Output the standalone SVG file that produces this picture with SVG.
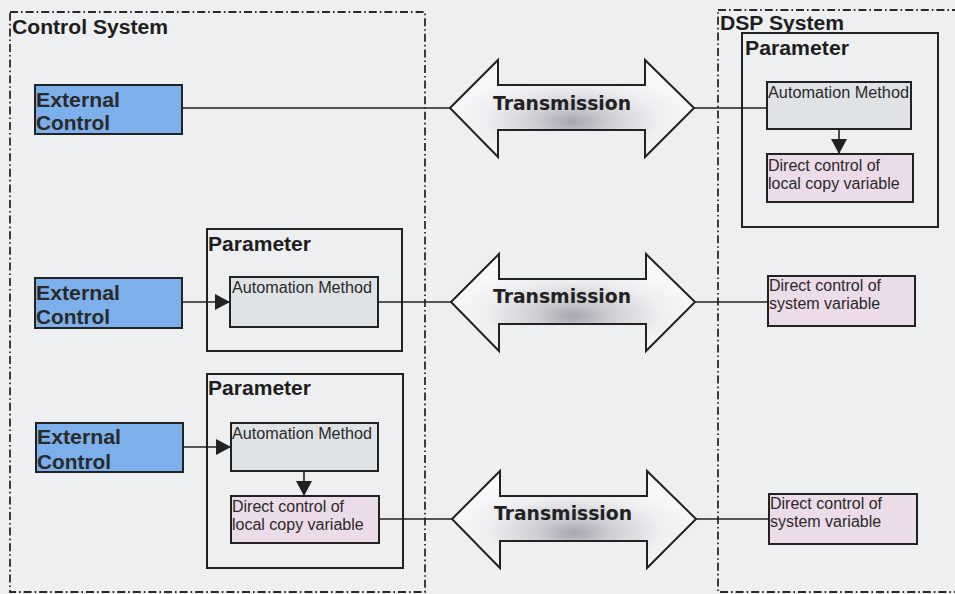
<svg xmlns="http://www.w3.org/2000/svg" width="955" height="594" viewBox="0 0 955 594">
  <style>
    .sys { fill: none; stroke: #2a2a2a; stroke-width: 1.8; stroke-dasharray: 8 3 1.6 3; }
    .title { font-family: "Liberation Sans", Arial, sans-serif; font-weight: bold; font-size: 20px; fill: #1e1e1e; }
    .param { fill: none; stroke: #222; stroke-width: 2; }
    .ext { fill: #7db0ea; stroke: #222; stroke-width: 2; }
    .ext-t { font-family: "Liberation Sans", Arial, sans-serif; font-weight: bold; font-size: 20px; fill: #2a2a2a; }
    .auto { fill: #dfe3e6; stroke: #222; stroke-width: 2; }
    .direct { fill: #ecdbe8; stroke: #222; stroke-width: 2; }
    .small { font-family: "Liberation Sans", Arial, sans-serif; font-size: 16px; fill: #2a2a2a; }
    .tx { fill: url(#txFill); stroke: #222; stroke-width: 2; stroke-linejoin: miter; }
    .tx-t { font-family: "DejaVu Sans", Verdana, sans-serif; font-weight: bold; font-size: 19px; fill: #222; text-anchor: middle; }
    .wire { fill: none; stroke: #222; stroke-width: 1.6; }
  </style>
  <defs>
    <radialGradient id="txFill" cx="0.5" cy="0.62" r="0.5" fx="0.5" fy="0.64">
      <stop offset="0" stop-color="#a6a6b0"/>
      <stop offset="0.3" stop-color="#cdcdd3"/>
      <stop offset="0.7" stop-color="#eeeef1"/>
      <stop offset="1" stop-color="#f8f8fa"/>
    </radialGradient>
    <!-- double-headed transmission arrow, left tip at origin -->
    <path id="txArrow" d="M0,0 L48,-48 L48,-23 L195,-23 L195,-48 L244,0 L195,49 L195,22 L48,22 L48,49 Z"/>
    <marker id="tri" viewBox="0 0 15 16" refX="15" refY="8" markerWidth="15" markerHeight="16" markerUnits="userSpaceOnUse" orient="auto">
      <path d="M0,0 L15,8 L0,16 Z" fill="#222"/>
    </marker>
  </defs>

  <rect width="955" height="594" fill="#edeff1"/>

  <!-- system boundaries -->
  <g id="control-system">
    <rect class="sys" x="10" y="12" width="415" height="580"/>
    <text class="title" x="12" y="34" textLength="156" lengthAdjust="spacingAndGlyphs">Control System</text>
  </g>
  <g id="dsp-system">
    <rect class="sys" x="718" y="10" width="260" height="582"/>
    <text class="title" x="720" y="30" textLength="124" lengthAdjust="spacingAndGlyphs">DSP System</text>
  </g>

  <!-- row 1 -->
  <g id="ext1">
    <rect class="ext" x="35" y="85" width="147" height="49"/>
    <text class="ext-t" x="36" y="107" textLength="84" lengthAdjust="spacingAndGlyphs">External</text>
    <text class="ext-t" x="36" y="130" textLength="74" lengthAdjust="spacingAndGlyphs">Control</text>
  </g>
  <g id="dsp-param">
    <rect class="param" x="742" y="33" width="196" height="194"/>
    <text class="title" x="745" y="55" textLength="104" lengthAdjust="spacingAndGlyphs">Parameter</text>
  </g>
  <g id="dsp-auto">
    <rect class="auto" x="767" y="82" width="144" height="47"/>
    <text class="small" x="768" y="98" textLength="141" lengthAdjust="spacingAndGlyphs">Automation Method</text>
  </g>
  <g id="dsp-local">
    <rect class="direct" x="767" y="154" width="146" height="48"/>
    <text class="small" x="768" y="171">Direct control of</text>
    <text class="small" x="768" y="189">local copy variable</text>
  </g>

  <!-- row 2 -->
  <g id="ext2">
    <rect class="ext" x="35" y="278" width="147" height="50"/>
    <text class="ext-t" x="36" y="300" textLength="84" lengthAdjust="spacingAndGlyphs">External</text>
    <text class="ext-t" x="36" y="324" textLength="74" lengthAdjust="spacingAndGlyphs">Control</text>
  </g>
  <g id="param2">
    <rect class="param" x="207" y="229" width="195" height="122"/>
    <text class="title" x="208" y="251" textLength="103" lengthAdjust="spacingAndGlyphs">Parameter</text>
  </g>
  <g id="auto2">
    <rect class="auto" x="230" y="277" width="148" height="50"/>
    <text class="small" x="232" y="293" textLength="140" lengthAdjust="spacingAndGlyphs">Automation Method</text>
  </g>
  <g id="sys2">
    <rect class="direct" x="768" y="276" width="147" height="50"/>
    <text class="small" x="769" y="291">Direct control of</text>
    <text class="small" x="769" y="309">system variable</text>
  </g>

  <!-- row 3 -->
  <g id="ext3">
    <rect class="ext" x="36" y="423" width="147" height="49"/>
    <text class="ext-t" x="37" y="444" textLength="84" lengthAdjust="spacingAndGlyphs">External</text>
    <text class="ext-t" x="37" y="469" textLength="74" lengthAdjust="spacingAndGlyphs">Control</text>
  </g>
  <g id="param3">
    <rect class="param" x="207" y="374" width="196" height="194"/>
    <text class="title" x="208" y="395" textLength="103" lengthAdjust="spacingAndGlyphs">Parameter</text>
  </g>
  <g id="auto3">
    <rect class="auto" x="231" y="423" width="147" height="48"/>
    <text class="small" x="232" y="439" textLength="140" lengthAdjust="spacingAndGlyphs">Automation Method</text>
  </g>
  <g id="local3">
    <rect class="direct" x="231" y="496" width="148" height="47"/>
    <text class="small" x="232" y="512">Direct control of</text>
    <text class="small" x="232" y="530">local copy variable</text>
  </g>
  <g id="sys3">
    <rect class="direct" x="769" y="494" width="148" height="50"/>
    <text class="small" x="770" y="509">Direct control of</text>
    <text class="small" x="770" y="527">system variable</text>
  </g>

  <!-- transmission links -->
  <g id="tx1">
    <use href="#txArrow" class="tx" transform="translate(450 108)"/>
    <text class="tx-t" x="562" y="110" textLength="138" lengthAdjust="spacingAndGlyphs">Transmission</text>
  </g>
  <g id="tx2">
    <use href="#txArrow" class="tx" transform="translate(451 302)"/>
    <text class="tx-t" x="562" y="303" textLength="138" lengthAdjust="spacingAndGlyphs">Transmission</text>
  </g>
  <g id="tx3">
    <use href="#txArrow" class="tx" transform="translate(452 519)"/>
    <text class="tx-t" x="563" y="520" textLength="138" lengthAdjust="spacingAndGlyphs">Transmission</text>
  </g>

  <!-- connectors -->
  <g id="connectors">
    <line class="wire" x1="182" y1="108" x2="450" y2="108"/>
    <line class="wire" x1="694" y1="108" x2="767" y2="108"/>
    <line class="wire" x1="839" y1="129" x2="839" y2="154" marker-end="url(#tri)"/>

    <line class="wire" x1="182" y1="302" x2="230" y2="302" marker-end="url(#tri)"/>
    <line class="wire" x1="378" y1="302" x2="451" y2="302"/>
    <line class="wire" x1="695" y1="302" x2="768" y2="302"/>

    <line class="wire" x1="183" y1="447" x2="231" y2="447" marker-end="url(#tri)"/>
    <line class="wire" x1="304" y1="471" x2="304" y2="496" marker-end="url(#tri)"/>
    <line class="wire" x1="379" y1="519" x2="452" y2="519"/>
    <line class="wire" x1="696" y1="519" x2="769" y2="519"/>
  </g>
</svg>
